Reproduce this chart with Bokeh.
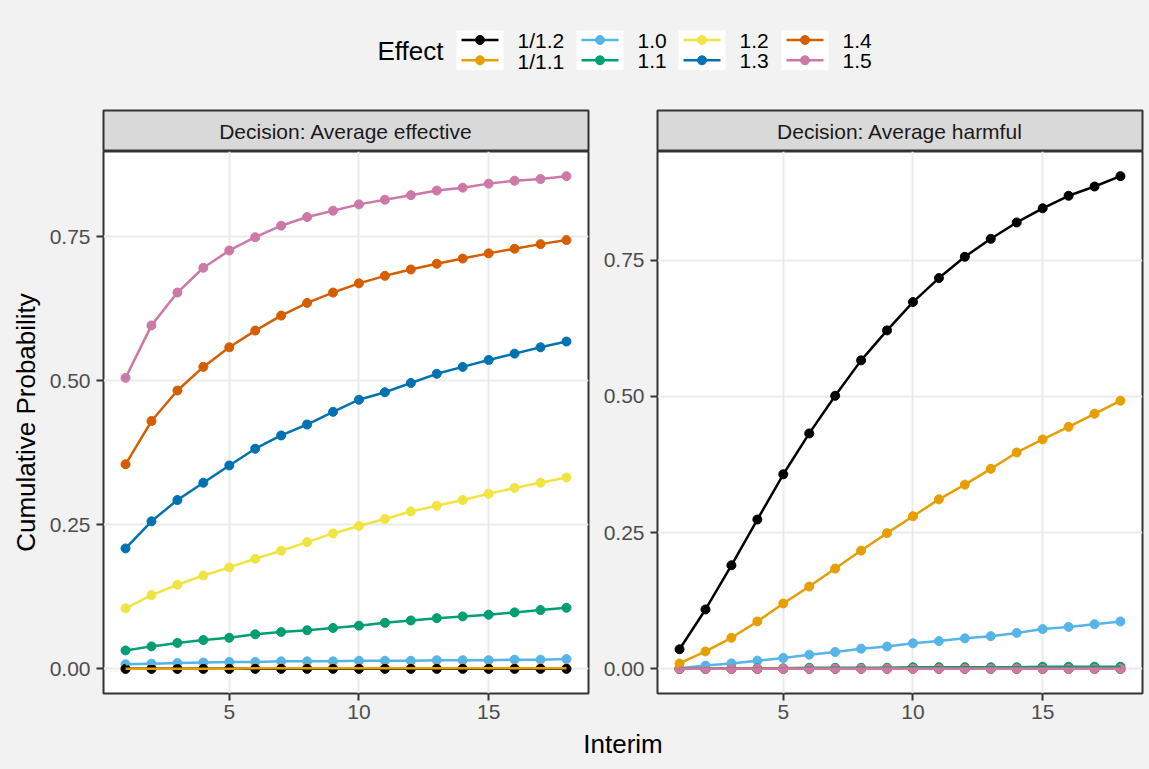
from bokeh.plotting import figure
from bokeh.models import Range1d, FixedTicker, PrintfTickFormatter
from bokeh.layouts import column, row
from bokeh.embed import file_html
from bokeh.resources import INLINE
from bokeh.core.properties import value

# ---------------------------------------------------------------- data
interim = list(range(1, 19))
effects = ["1/1.2", "1/1.1", "1.0", "1.1", "1.2", "1.3", "1.4", "1.5"]
colors = ["#000000", "#E69F00", "#56B4E9", "#009E73",
          "#F0E442", "#0072B2", "#D55E00", "#CC79A7"]
x_ticks = [5, 10, 15]
y_ticks = [0.0, 0.25, 0.50, 0.75]
panel_titles = ["Decision: Average effective", "Decision: Average harmful"]

# cumulative probability of declaring "average effective"
eff_1_2inv = [0.000, 0.000, 0.000, 0.000, 0.000, 0.000, 0.000, 0.000, 0.000,
              0.000, 0.000, 0.000, 0.000, 0.000, 0.000, 0.000, 0.000, 0.000]
eff_1_1inv = [0.000, 0.000, 0.000, 0.000, 0.000, 0.001, 0.001, 0.001, 0.001,
              0.001, 0.001, 0.001, 0.001, 0.001, 0.001, 0.001, 0.001, 0.001]
eff_1_0 = [0.008, 0.009, 0.010, 0.011, 0.012, 0.012, 0.013, 0.013, 0.013,
           0.014, 0.014, 0.014, 0.015, 0.015, 0.015, 0.016, 0.016, 0.017]
eff_1_1 = [0.032, 0.039, 0.045, 0.050, 0.054, 0.060, 0.064, 0.067, 0.071,
           0.075, 0.080, 0.084, 0.088, 0.091, 0.094, 0.098, 0.102, 0.106]
eff_1_2 = [0.105, 0.128, 0.146, 0.162, 0.176, 0.191, 0.205, 0.220, 0.235,
           0.248, 0.260, 0.273, 0.283, 0.293, 0.304, 0.314, 0.323, 0.332]
eff_1_3 = [0.209, 0.256, 0.293, 0.323, 0.353, 0.382, 0.405, 0.424, 0.446,
           0.467, 0.480, 0.496, 0.512, 0.524, 0.536, 0.547, 0.558, 0.568]
eff_1_4 = [0.355, 0.430, 0.483, 0.524, 0.558, 0.587, 0.613, 0.635, 0.653,
           0.669, 0.682, 0.693, 0.703, 0.712, 0.721, 0.729, 0.737, 0.744]
eff_1_5 = [0.505, 0.596, 0.653, 0.696, 0.726, 0.749, 0.769, 0.784, 0.795,
           0.806, 0.814, 0.822, 0.830, 0.835, 0.842, 0.847, 0.850, 0.855]

# cumulative probability of declaring "average harmful"
harm_1_2inv = [0.036, 0.109, 0.190, 0.274, 0.357, 0.432, 0.501, 0.566, 0.621,
               0.673, 0.717, 0.756, 0.789, 0.819, 0.845, 0.868, 0.885, 0.904]
harm_1_1inv = [0.010, 0.032, 0.057, 0.087, 0.120, 0.151, 0.184, 0.217, 0.249,
               0.280, 0.311, 0.338, 0.367, 0.397, 0.421, 0.444, 0.468, 0.492]
harm_1_0 = [0.001, 0.006, 0.010, 0.015, 0.020, 0.026, 0.031, 0.037, 0.041,
            0.047, 0.051, 0.056, 0.060, 0.066, 0.073, 0.077, 0.082, 0.087]
harm_1_1 = [0.000, 0.000, 0.001, 0.001, 0.001, 0.002, 0.002, 0.002, 0.002,
            0.003, 0.003, 0.003, 0.003, 0.003, 0.004, 0.004, 0.004, 0.004]
harm_1_2 = [0.000, 0.000, 0.000, 0.000, 0.000, 0.000, 0.000, 0.000, 0.000,
            0.000, 0.000, 0.000, 0.000, 0.000, 0.000, 0.000, 0.000, 0.000]
harm_1_3 = [0.000, 0.000, 0.000, 0.000, 0.000, 0.000, 0.000, 0.000, 0.000,
            0.000, 0.000, 0.000, 0.000, 0.000, 0.000, 0.000, 0.000, 0.000]
harm_1_4 = [0.000, 0.000, 0.000, 0.000, 0.000, 0.000, 0.000, 0.000, 0.000,
            0.000, 0.000, 0.000, 0.000, 0.000, 0.000, 0.000, 0.000, 0.000]
harm_1_5 = [0.000, 0.000, 0.000, 0.000, 0.000, 0.000, 0.000, 0.000, 0.000,
            0.000, 0.000, 0.000, 0.000, 0.000, 0.000, 0.000, 0.000, 0.000]

effective = [eff_1_2inv, eff_1_1inv, eff_1_0, eff_1_1,
             eff_1_2, eff_1_3, eff_1_4, eff_1_5]
harmful = [harm_1_2inv, harm_1_1inv, harm_1_0, harm_1_1,
           harm_1_2, harm_1_3, harm_1_4, harm_1_5]

# ---------------------------------------------------------------- style
FONT = "Liberation Sans"
BG = "#F2F2F2"
BORDER = "#333333"
GRID = "#EBEBEB"
STRIP_FILL = "#D9D9D9"
BG_STYLE = {"background-color": BG}

TOTAL_W = 1149
LEGEND_H = 109
STRIP_H = 42
PANEL_H = 577
XLAB_H = 41
LEFT_W = 595
RIGHT_W = TOTAL_W - LEFT_W
PANEL_BOTTOM = 35
# (border left, border right) for each column
COL_BORDERS = [(103, 7), (62, 7)]

# points are stacked in label order, lines in legend order
point_order = sorted(range(len(effects)), key=lambda i: effects[i])


def make_panel(width, borders, series, ylabel):
    vals = [v for s in series for v in s]
    lo, hi = min(vals), max(vals)
    ypad = 0.05 * (hi - lo)
    xpad = 0.05 * (max(interim) - min(interim))
    p = figure(width=width, height=PANEL_H,
               x_range=Range1d(min(interim) - xpad, max(interim) + xpad),
               y_range=Range1d(lo - ypad, hi + ypad),
               output_backend="svg", toolbar_location=None,
               min_border_left=borders[0], min_border_right=borders[1],
               min_border_top=0, min_border_bottom=PANEL_BOTTOM,
               styles=BG_STYLE)
    p.background_fill_color = "white"
    p.border_fill_color = BG
    p.outline_line_color = BORDER
    p.outline_line_width = 2

    p.xaxis.ticker = FixedTicker(ticks=x_ticks)
    p.yaxis.ticker = FixedTicker(ticks=y_ticks)
    p.yaxis.formatter = PrintfTickFormatter(format="%.2f")
    p.xaxis.formatter = PrintfTickFormatter(format="%d")
    for ax in (p.xaxis, p.yaxis):
        ax.axis_line_color = None
        ax.major_tick_line_color = BORDER
        ax.major_tick_line_width = 2
        ax.major_tick_in = 0
        ax.major_tick_out = 7
        ax.minor_tick_line_color = None
        ax.major_label_text_font = FONT
        ax.major_label_text_font_size = "21px"
        ax.major_label_text_color = "#4D4D4D"
    p.xaxis.major_label_standoff = 4
    p.yaxis.major_label_standoff = 6
    if ylabel:
        p.yaxis.axis_label = ylabel
        p.yaxis.axis_label_text_font = FONT
        p.yaxis.axis_label_text_font_size = "26px"
        p.yaxis.axis_label_text_font_style = "normal"
        p.yaxis.axis_label_text_color = "black"
        p.yaxis.axis_label_standoff = 6

    p.grid.grid_line_color = GRID
    p.grid.grid_line_width = 2

    # points first, then the connecting lines on top
    for i in point_order:
        p.scatter(interim, series[i], size=9, color=colors[i])
    for s, c in zip(series, colors):
        p.line(interim, s, line_width=2.5, color=c)
    return p


def make_strip(width, borders, title):
    s = figure(width=width, height=STRIP_H,
               x_range=Range1d(0, 1), y_range=Range1d(0, 1),
               output_backend="svg", toolbar_location=None,
               x_axis_location=None, y_axis_location=None,
               min_border_left=borders[0], min_border_right=borders[1],
               min_border_top=1, min_border_bottom=0, styles=BG_STYLE)
    s.grid.visible = False
    s.background_fill_color = STRIP_FILL
    s.border_fill_color = BG
    s.outline_line_color = BORDER
    s.outline_line_width = 2
    s.text(x=[0.5], y=[0.5], text=[title], text_align="center",
           text_baseline="middle", text_font=value(FONT),
           text_font_size=value("21px"), text_color="#1A1A1A")
    return s


# ---------------------------------------------------------------- legend
lg = figure(width=TOTAL_W, height=LEGEND_H,
            x_range=Range1d(0, TOTAL_W), y_range=Range1d(LEGEND_H, 0),
            output_backend="svg", toolbar_location=None,
            x_axis_location=None, y_axis_location=None, min_border=0,
            styles=BG_STYLE)
lg.grid.visible = False
lg.background_fill_color = BG
lg.border_fill_color = BG
lg.outline_line_color = None

key_left = [456, 576, 678, 781]
key_w = 47
row_y = [39.5, 59.8]
lg.text(x=[377], y=[50], text=["Effect"], text_align="left",
        text_baseline="middle", text_font=value(FONT),
        text_font_size=value("26px"), text_color="black")
lg.quad(left=key_left, right=[k + key_w for k in key_left],
        top=[30] * len(key_left), bottom=[69.5] * len(key_left),
        fill_color="white", line_color=None)
kx0, kx1, kxc, ky, tx, ty = [], [], [], [], [], []
for i, eff in enumerate(effects):
    col, r = divmod(i, 2)
    kx0.append(key_left[col] + 5)
    kx1.append(key_left[col] + key_w - 5)
    kxc.append(key_left[col] + key_w / 2)
    ky.append(row_y[r])
    tx.append(key_left[col] + 61)
    ty.append(row_y[r] + 0.7)
lg.segment(x0=kx0, y0=ky, x1=kx1, y1=ky, line_color=colors, line_width=2.5)
lg.scatter(x=kxc, y=ky, size=9, color=colors)
lg.text(x=tx, y=ty, text=effects, text_align="left", text_baseline="middle",
        text_font=value(FONT), text_font_size=value("21px"), text_color="black")

# ---------------------------------------------------------------- panels
strip_l = make_strip(LEFT_W, COL_BORDERS[0], panel_titles[0])
strip_r = make_strip(RIGHT_W, COL_BORDERS[1], panel_titles[1])
p_l = make_panel(LEFT_W, COL_BORDERS[0], effective, "Cumulative Probability")
p_r = make_panel(RIGHT_W, COL_BORDERS[1], harmful, None)

# ---------------------------------------------------------------- x title
xl = figure(width=TOTAL_W, height=XLAB_H,
            x_range=Range1d(0, TOTAL_W), y_range=Range1d(XLAB_H, 0),
            output_backend="svg", toolbar_location=None,
            x_axis_location=None, y_axis_location=None, min_border=0,
            styles=BG_STYLE)
xl.grid.visible = False
xl.background_fill_color = BG
xl.border_fill_color = BG
xl.outline_line_color = None
frame_left = COL_BORDERS[0][0]
frame_right = TOTAL_W - COL_BORDERS[1][1]
xl.text(x=[(frame_left + frame_right) / 2], y=[15], text=["Interim"],
        text_align="center", text_baseline="middle", text_font=value(FONT),
        text_font_size=value("26px"), text_color="black")

layout = column(lg, row(strip_l, strip_r, styles=BG_STYLE),
                row(p_l, p_r, styles=BG_STYLE), xl, styles=BG_STYLE)

open("out.html", "w").write(file_html(layout, INLINE))
